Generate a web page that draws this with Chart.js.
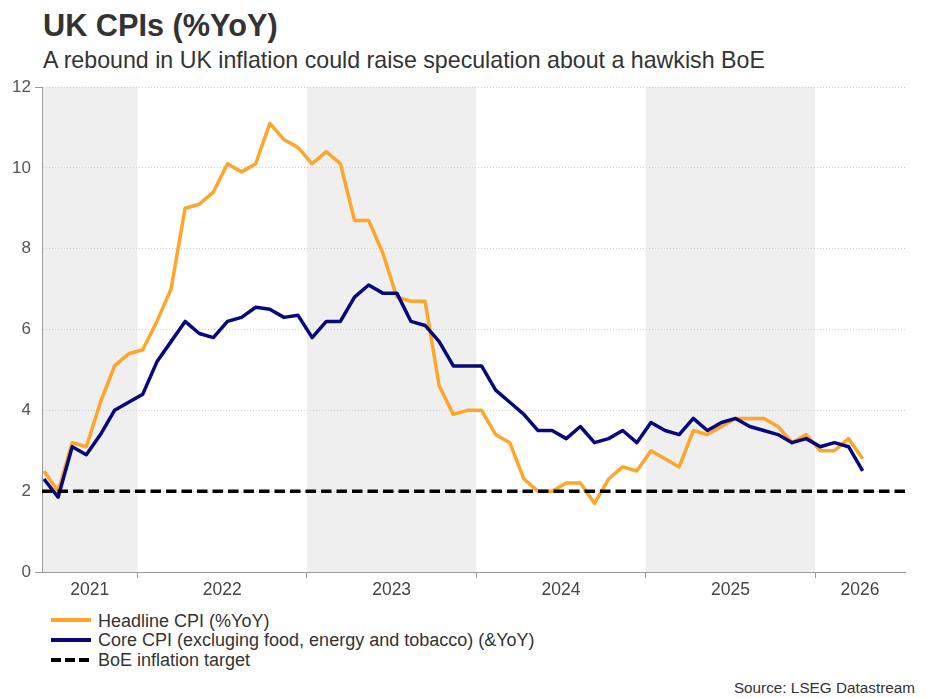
<!DOCTYPE html>
<html>
<head>
<meta charset="utf-8">
<script src="https://cdn.jsdelivr.net/npm/chart.js@4.4.0/dist/chart.umd.min.js"></script>
<style>
  body { margin: 0; background: #fff; font-family: "Liberation Sans", Arial, sans-serif; }
  #wrap { position: relative; width: 930px; height: 698px; overflow: hidden; }
  .txt { position: absolute; white-space: nowrap; line-height: 1; color: #333; }
  #title { left: 43px; top: 10.5px; font-size: 30.7px; font-weight: bold; }
  #subtitle { left: 43px; top: 49px; font-size: 23.2px; }
  #source { right: 15px; top: 679.5px; font-size: 15.3px; }
  .leg { position: absolute; left: 51px; font-size: 18px; color: #333; line-height: 1; white-space: nowrap; }
  .leg span.sw { position: absolute; left: 0; width: 40px; height: 4px; }
  .leg span.lb { position: absolute; left: 47px; top: 0; }
  #chartBox { position: absolute; left: 0; top: 67px; width: 930px; height: 543px; }
</style>
</head>
<body>
<div id="wrap">
  <div class="txt" id="title">UK CPIs (%YoY)</div>
  <div class="txt" id="subtitle">A rebound in UK inflation could raise speculation about a hawkish BoE</div>
  <div id="chartBox"><canvas id="chart"></canvas></div>
  <div id="legend"></div>
  <div class="txt" id="source">Source: LSEG Datastream</div>
</div>
<script>
// Monthly data, June 2021 to April 2026
const startYear = 2021;
const startMonth = 6;

const headline = [
  2.5, 2.0, 3.2, 3.1, 4.2, 5.1, 5.4,
  5.5, 6.2, 7.0, 9.0, 9.1, 9.4, 10.1, 9.9, 10.1, 11.1, 10.7, 10.5,
  10.1, 10.4, 10.1, 8.7, 8.7, 7.9, 6.8, 6.7, 6.7, 4.6, 3.9, 4.0,
  4.0, 3.4, 3.2, 2.3, 2.0, 2.0, 2.2, 2.2, 1.7, 2.3, 2.6, 2.5,
  3.0, 2.8, 2.6, 3.5, 3.4, 3.6, 3.8, 3.8, 3.8, 3.6, 3.2, 3.4,
  3.0, 3.0, 3.3, 2.8
];

const core = [
  2.3, 1.85, 3.1, 2.9, 3.4, 4.0, 4.2,
  4.4, 5.2, 5.7, 6.2, 5.9, 5.8, 6.2, 6.3, 6.55, 6.5, 6.3, 6.35,
  5.8, 6.2, 6.2, 6.8, 7.1, 6.9, 6.9, 6.2, 6.1, 5.7, 5.1, 5.1,
  5.1, 4.5, 4.2, 3.9, 3.5, 3.5, 3.3, 3.6, 3.2, 3.3, 3.5, 3.2,
  3.7, 3.5, 3.4, 3.8, 3.5, 3.7, 3.8, 3.6, 3.5, 3.4, 3.2, 3.3,
  3.1, 3.2, 3.1, 2.5
];

const boeTarget = 2;
const years = ['2021', '2022', '2023', '2024', '2025', '2026'];
const shadedYears = ['2021', '2023', '2025'];
const yTicks = [0, 2, 4, 6, 8, 10, 12];

const legendItems = [
  { label: 'Headline CPI (%YoY)', color: '#ffa52a', dashed: false },
  { label: 'Core CPI (excluging food, energy and tobacco) (&YoY)', color: '#08087d', dashed: false },
  { label: 'BoE inflation target', color: '#000000', dashed: true }
];

// x is months since the first observation; year boundaries sit a bit before each January point
const xMin = -0.14;
const xMax = 61;
const janIndex = y => (y - startYear) * 12 + (1 - startMonth);
const yearEdge = y => Math.max(xMin, Math.min(xMax, janIndex(y) - 0.37));
const boundaries = years.slice(1).map(y => yearEdge(+y));
const labelPos = years.map(y => (yearEdge(+y) + yearEdge(+y + 1)) / 2);

const shadePlugin = {
  id: 'shade',
  beforeDraw(chart) {
    const { ctx, chartArea, scales } = chart;
    ctx.save();
    ctx.fillStyle = '#efefef';
    shadedYears.forEach(y => {
      const x0 = scales.x.getPixelForValue(yearEdge(+y));
      const x1 = scales.x.getPixelForValue(yearEdge(+y + 1));
      ctx.fillRect(x0, chartArea.top, x1 - x0, chartArea.bottom - chartArea.top);
    });
    ctx.restore();
  }
};

new Chart(document.getElementById('chart').getContext('2d'), {
  type: 'line',
  data: {
    datasets: [
      {
        label: 'BoE inflation target',
        data: [{ x: xMin, y: boeTarget }, { x: xMax, y: boeTarget }],
        borderColor: '#000',
        borderWidth: 3.5,
        borderDash: [10.5, 5],
        pointRadius: 0,
        order: 0
      },
      {
        label: 'Core CPI (excluging food, energy and tobacco) (&YoY)',
        data: core.map((v, i) => ({ x: i, y: v })),
        borderColor: '#08087d',
        borderWidth: 3.5,
        pointRadius: 0,
        borderJoinStyle: 'round',
        order: 1
      },
      {
        label: 'Headline CPI (%YoY)',
        data: headline.map((v, i) => ({ x: i, y: v })),
        borderColor: '#ffa52a',
        borderWidth: 3.5,
        pointRadius: 0,
        borderJoinStyle: 'round',
        order: 2
      }
    ]
  },
  options: {
    responsive: true,
    maintainAspectRatio: false,
    animation: false,
    layout: { padding: { top: 20, right: 25, bottom: 8, left: 0 } },
    plugins: {
      legend: { display: false },
      tooltip: { enabled: false }
    },
    scales: {
      x: {
        type: 'linear',
        min: xMin,
        max: xMax,
        afterBuildTicks: scale => {
          scale.ticks = boundaries.map(v => ({ value: v, edge: true }))
            .concat(labelPos.map((v, i) => ({ value: v, label: years[i] })));
        },
        afterFit: scale => { scale.height = 30; },
        ticks: {
          autoSkip: false,
          maxRotation: 0,
          padding: 2,
          color: '#444',
          font: { size: 17.5, family: '"Liberation Sans", Arial, sans-serif' },
          callback: function (value, index, ticks) { return ticks[index].label || ''; }
        },
        grid: {
          drawOnChartArea: false,
          drawTicks: true,
          tickLength: 6,
          color: ctx => (ctx.tick && ctx.tick.edge ? '#999' : 'rgba(0,0,0,0)'),
          lineWidth: 1
        },
        border: { display: true, color: '#999', width: 1 }
      },
      y: {
        min: 0,
        max: 12,
        afterBuildTicks: scale => { scale.ticks = yTicks.map(v => ({ value: v })); },
        afterFit: scale => { scale.width = 42; },
        ticks: {
          padding: 4,
          color: '#555',
          font: { size: 17, family: '"Liberation Sans", Arial, sans-serif' }
        },
        grid: {
          drawTicks: true,
          tickLength: 7,
          color: '#cfcfcf',
          tickColor: ctx => (ctx.tick && (ctx.tick.value === 0 || ctx.tick.value === 12) ? '#999' : 'rgba(0,0,0,0)'),
          tickBorderDash: [],
          lineWidth: 1
        },
        border: { display: true, color: '#999', width: 1, dash: [1, 2] }
      }
    }
  },
  plugins: [shadePlugin]
});

// legend rows under the chart
const legendTops = [611.5, 631.3, 651];
const legendEl = document.getElementById('legend');
legendItems.forEach((item, i) => {
  const row = document.createElement('div');
  row.className = 'leg';
  row.style.top = legendTops[i] + 'px';
  const sw = document.createElement('span');
  sw.className = 'sw';
  sw.style.top = '6.5px';
  sw.style.background = item.dashed
    ? 'repeating-linear-gradient(to right, #000 0 10px, transparent 10px 14px)'
    : item.color;
  const lb = document.createElement('span');
  lb.className = 'lb';
  lb.textContent = item.label;
  row.appendChild(sw);
  row.appendChild(lb);
  legendEl.appendChild(row);
});
</script>
</body>
</html>
